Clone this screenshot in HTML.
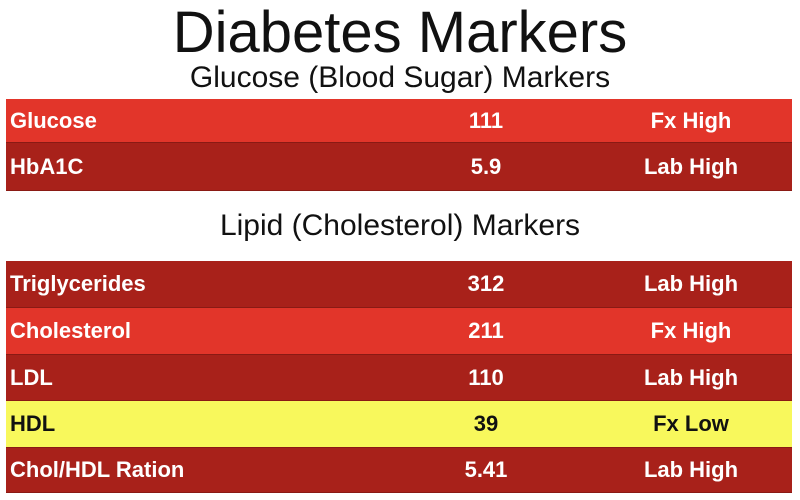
<!DOCTYPE html>
<html><head><meta charset="utf-8"><style>
body{margin:0;width:800px;height:500px;background:#fff;font-family:"Liberation Sans",sans-serif;position:relative;overflow:hidden}
.t{position:absolute;left:0;width:800px;text-align:center;color:#111}
.row{position:absolute;left:6px;width:786px;font-weight:bold;font-size:22px;color:#fff;border-bottom:1px solid #8a1a14}
.row span{position:absolute;top:50%;transform:translateY(-50%)}
.n{left:4px}.v{left:440px;width:80px;text-align:center}.s{left:600px;width:170px;text-align:center}
.b{background:#e2352a}.d{background:#a8211a}.y{background:#f8f85c;color:#111}
</style></head><body>
<div class="t" style="top:2px;font-size:58px;line-height:62px">Diabetes Markers</div>
<div class="t" style="top:60px;font-size:30px;line-height:36px">Glucose (Blood Sugar) Markers</div>
<div class="row b" style="top:99px;height:43px"><span class="n">Glucose</span><span class="v">111</span><span class="s">Fx High</span></div>
<div class="row d" style="top:143px;height:47px"><span class="n">HbA1C</span><span class="v">5.9</span><span class="s">Lab High</span></div>
<div class="t" style="top:208px;font-size:30px;line-height:36px">Lipid (Cholesterol) Markers</div>
<div class="row d" style="top:261px;height:46px"><span class="n">Triglycerides</span><span class="v">312</span><span class="s">Lab High</span></div>
<div class="row b" style="top:308px;height:46px"><span class="n">Cholesterol</span><span class="v">211</span><span class="s">Fx High</span></div>
<div class="row d" style="top:355px;height:45px"><span class="n">LDL</span><span class="v">110</span><span class="s">Lab High</span></div>
<div class="row y" style="top:401px;height:46px"><span class="n">HDL</span><span class="v">39</span><span class="s">Fx Low</span></div>
<div class="row d" style="top:448px;height:44px"><span class="n">Chol/HDL Ration</span><span class="v">5.41</span><span class="s">Lab High</span></div>
</body></html>
